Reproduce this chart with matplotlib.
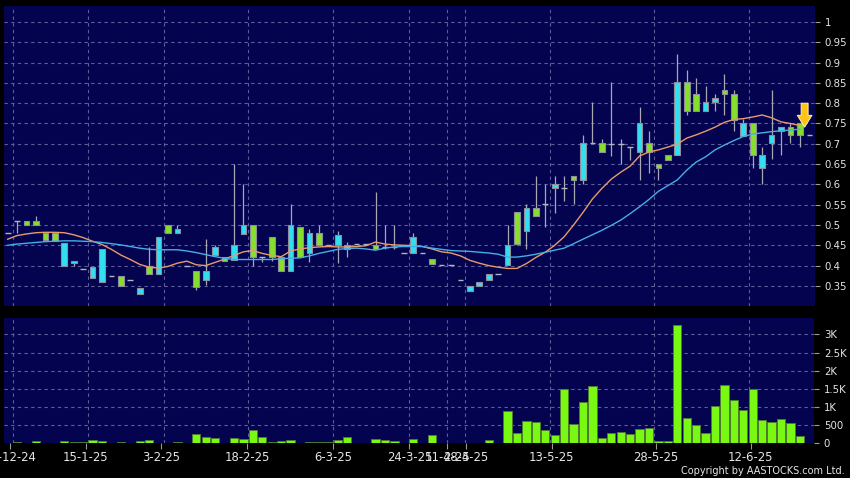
import matplotlib
matplotlib.use("Agg")
import matplotlib.pyplot as plt
import numpy as np

# ---------------- data ----------------
opens = [0.48, 0.51, 0.51, 0.51, 0.48, 0.48, 0.40, 0.406, 0.392, 0.369,
         0.36, 0.374, 0.374, 0.365, 0.33, 0.40, 0.379, 0.50, 0.48, 0.40,
         0.387, 0.364, 0.425, 0.421, 0.415, 0.479, 0.50, 0.42, 0.47, 0.421,
         0.386, 0.495, 0.431, 0.48, 0.45, 0.45, 0.441, 0.452, 0.452, 0.45,
         0.445, 0.445, 0.431, 0.431, 0.431, 0.416, 0.401, 0.401, 0.365, 0.338,
         0.349, 0.364, 0.379, 0.401, 0.531, 0.484, 0.542, 0.551, 0.59, 0.59,
         0.621, 0.61, 0.701, 0.701, 0.70, 0.70, 0.691, 0.681, 0.701, 0.65,
         0.672, 0.672, 0.851, 0.823, 0.78, 0.802, 0.833, 0.823, 0.72, 0.75,
         0.64, 0.701, 0.731, 0.741, 0.75, 0.721]
highs = [0.48, 0.51, 0.51, 0.523, 0.48, 0.48, 0.456, 0.411, 0.392, 0.397,
         0.441, 0.374, 0.374, 0.365, 0.345, 0.447, 0.47, 0.50, 0.50, 0.40,
         0.387, 0.465, 0.45, 0.421, 0.651, 0.60, 0.50, 0.42, 0.47, 0.421,
         0.552, 0.495, 0.49, 0.50, 0.45, 0.486, 0.457, 0.452, 0.452, 0.582,
         0.50, 0.50, 0.431, 0.48, 0.431, 0.416, 0.401, 0.401, 0.365, 0.35,
         0.36, 0.379, 0.379, 0.499, 0.531, 0.551, 0.621, 0.60, 0.621, 0.621,
         0.621, 0.721, 0.803, 0.711, 0.852, 0.711, 0.691, 0.79, 0.731, 0.65,
         0.672, 0.921, 0.882, 0.862, 0.842, 0.823, 0.872, 0.833, 0.76, 0.75,
         0.691, 0.833, 0.741, 0.75, 0.75, 0.721]
lows = [0.48, 0.48, 0.50, 0.50, 0.46, 0.46, 0.40, 0.40, 0.392, 0.369,
        0.36, 0.374, 0.35, 0.365, 0.33, 0.379, 0.379, 0.48, 0.48, 0.40,
        0.341, 0.353, 0.425, 0.412, 0.415, 0.479, 0.40, 0.41, 0.412, 0.386,
        0.386, 0.42, 0.41, 0.45, 0.45, 0.406, 0.42, 0.452, 0.452, 0.441,
        0.441, 0.44, 0.431, 0.431, 0.431, 0.405, 0.401, 0.401, 0.365, 0.338,
        0.349, 0.364, 0.379, 0.401, 0.45, 0.44, 0.521, 0.494, 0.53, 0.559,
        0.551, 0.60, 0.701, 0.681, 0.67, 0.65, 0.66, 0.61, 0.629, 0.61,
        0.661, 0.672, 0.77, 0.78, 0.78, 0.78, 0.77, 0.731, 0.72, 0.64,
        0.60, 0.662, 0.672, 0.701, 0.691, 0.721]
closes = [0.48, 0.51, 0.50, 0.50, 0.464, 0.46, 0.456, 0.411, 0.392, 0.397,
          0.441, 0.374, 0.35, 0.365, 0.345, 0.379, 0.47, 0.48, 0.491, 0.40,
          0.347, 0.387, 0.446, 0.412, 0.45, 0.50, 0.42, 0.42, 0.421, 0.386,
          0.50, 0.42, 0.48, 0.45, 0.45, 0.475, 0.45, 0.452, 0.452, 0.441,
          0.445, 0.445, 0.431, 0.47, 0.431, 0.405, 0.401, 0.401, 0.365, 0.35,
          0.36, 0.379, 0.379, 0.45, 0.454, 0.542, 0.521, 0.551, 0.60, 0.59,
          0.61, 0.701, 0.701, 0.681, 0.70, 0.70, 0.691, 0.75, 0.681, 0.64,
          0.661, 0.851, 0.78, 0.78, 0.803, 0.813, 0.822, 0.759, 0.75, 0.672,
          0.672, 0.721, 0.741, 0.721, 0.721, 0.721]
volumes = [0, 37, 10, 64, 10, 10, 64, 37, 37, 92,
           64, 0, 46, 0, 64, 92, 10, 0, 28, 0,
           266, 174, 138, 0, 138, 119, 367, 174, 37, 64,
           83, 0, 37, 28, 37, 92, 165, 0, 0, 119,
           83, 55, 0, 128, 20, 220, 10, 0, 0, 10,
           5, 83, 0, 880, 294, 615, 587, 367, 239, 1486,
           523, 1147, 1578, 147, 294, 312, 266, 394, 422, 55,
           55, 3248, 706, 505, 284, 1018, 1596, 1193, 908, 1495,
           633, 578, 679, 560, 202, 0]
ma_short = [0.465, 0.474, 0.478, 0.481, 0.482, 0.482, 0.481, 0.476, 0.469, 0.460,
            0.452, 0.440, 0.426, 0.415, 0.403, 0.396, 0.394, 0.398, 0.406, 0.411,
            0.402, 0.400, 0.408, 0.416, 0.425, 0.434, 0.437, 0.430, 0.425, 0.422,
            0.436, 0.441, 0.444, 0.446, 0.447, 0.446, 0.446, 0.447, 0.449, 0.458,
            0.453, 0.451, 0.450, 0.449, 0.447, 0.441, 0.434, 0.431, 0.424, 0.413,
            0.406, 0.400, 0.396, 0.393, 0.393, 0.405, 0.420, 0.433, 0.450, 0.471,
            0.500, 0.531, 0.564, 0.590, 0.613, 0.630, 0.645, 0.670, 0.680, 0.685,
            0.692, 0.699, 0.714, 0.722, 0.731, 0.741, 0.753, 0.760, 0.762, 0.766,
            0.771, 0.764, 0.754, 0.750, 0.745]
ma_long = [0.450, 0.453, 0.455, 0.457, 0.459, 0.460, 0.461, 0.461, 0.460, 0.459,
           0.457, 0.454, 0.451, 0.447, 0.443, 0.440, 0.439, 0.439, 0.439, 0.436,
           0.432, 0.427, 0.422, 0.418, 0.415, 0.415, 0.415, 0.415, 0.415, 0.417,
           0.418, 0.419, 0.424, 0.430, 0.435, 0.440, 0.442, 0.443, 0.441, 0.438,
           0.443, 0.446, 0.447, 0.447, 0.447, 0.443, 0.440, 0.437, 0.436, 0.435,
           0.433, 0.431, 0.428, 0.421, 0.421, 0.424, 0.428, 0.433, 0.438, 0.443,
           0.454, 0.465, 0.476, 0.487, 0.499, 0.512, 0.528, 0.545, 0.563, 0.583,
           0.597, 0.611, 0.635, 0.655, 0.668, 0.685, 0.697, 0.708, 0.718, 0.724,
           0.727, 0.730, 0.732, 0.734, 0.736]
date_labels = ["24-12-24", "15-1-25", "3-2-25", "18-2-25", "6-3-25", "24-3-25",
               "11-4-25", "28-4-25", "13-5-25", "28-5-25", "12-6-25"]
price_ticks = [0.35, 0.40, 0.45, 0.50, 0.55, 0.60, 0.65, 0.70, 0.75, 0.80,
               0.85, 0.90, 0.95, 1.00]
vol_ticks = [0, 500, 1000, 1500, 2000, 2500, 3000]
vol_tick_labels = ["0", "500", "1K", "1.5K", "2K", "2.5K", "3K"]

# ---------------- layout / style ----------------
W, H = 850, 478
tick_x = [0.2, 8.3, 16.3, 25.4, 34.5, 42.6, 46.6, 48.6, 57.7, 68.7, 78.8]
grid_x = [0.6, 8.55, 16.6, 25.5, 34.5, 42.6, 46.6, 48.5, 57.5, 68.5, 78.6]

BG = "#000000"
PANEL = "#03034f"
GRID = "#5e5e9a"
UP = "#30e0f2"
DOWN = "#86e02a"
EDGE = "#8f8f9c"
WICK = "#a8a8b4"
TXT = "#e6e6e6"
VOL = "#78f812"

fig = plt.figure(figsize=(W / 100, H / 100), dpi=100, facecolor=BG)


def box(l, t, r, b):
    return [l / W, 1 - b / H, (r - l) / W, (b - t) / H]


ax = fig.add_axes(box(4, 6, 815, 306))
axv = fig.add_axes(box(4, 318.3, 814, 443.3))

n = len(opens)
idx = np.arange(n)
o = np.array(opens); c = np.array(closes)
h = np.array(highs); l = np.array(lows)

for a in (ax, axv):
    a.set_facecolor(PANEL)
    for s in a.spines.values():
        s.set_visible(False)
    for gx in grid_x:
        a.axvline(gx, color=GRID, lw=0.8, ls=(0, (3, 3)), zorder=0)

# price grid
for pv in price_ticks:
    ax.axhline(pv, color=GRID, lw=0.8, ls=(0, (3, 3)), zorder=0)

# wicks
ax.vlines(idx, l, h, color=WICK, lw=0.9, zorder=2)
# bodies
bw = 0.6
for i in range(n):
    if abs(c[i] - o[i]) < 1e-9:
        ax.hlines(o[i], i - bw / 2, i + bw / 2, color="#b4b4be", lw=1.0, zorder=3)
    else:
        col = UP if c[i] > o[i] else DOWN
        ax.bar(i, abs(c[i] - o[i]), bottom=min(o[i], c[i]), width=bw,
               color=col, edgecolor=EDGE, linewidth=0.8, zorder=3)

ma_idx = np.arange(len(ma_short))
ax.plot(ma_idx, ma_short, color="#e89a6c", lw=1.0, zorder=4)
ax.plot(ma_idx, ma_long, color="#46aee6", lw=1.0, zorder=4)

# arrow marker
ax.annotate("", xy=(84.5, 0.741), xytext=(84.5, 0.800),
            arrowprops=dict(arrowstyle="simple,head_width=1.05,head_length=0.85,tail_width=0.5",
                            fc="#ffc21a", ec="#fff3b8", lw=0.7,
                            shrinkA=0, shrinkB=0, mutation_scale=10),
            zorder=6)

ax.set_xlim(-0.39, 85.6)
ax.set_ylim(0.3005, 1.0394)
ax.set_xticks([])
ax.yaxis.tick_right()
ax.set_yticks(price_ticks)
ax.set_yticklabels(["%g" % v for v in price_ticks])
ax.tick_params(axis="y", colors="#9a9a9a", labelcolor=TXT, length=3.6, width=0.8,
               pad=3.5, labelsize=7.3)

# volume
for vv in vol_ticks[1:]:
    axv.axhline(vv, color=GRID, lw=0.8, ls=(0, (3, 3)), zorder=0)
axv.bar(idx, volumes, width=0.88, color=VOL, edgecolor="#4e7a30", linewidth=0.7, zorder=3)
axv.set_xlim(-0.39, 85.6 - 0.106)
axv.set_ylim(0, 3443)
axv.yaxis.tick_right()
axv.set_yticks(vol_ticks)
axv.set_yticklabels(vol_tick_labels)
axv.tick_params(axis="y", colors="#9a9a9a", labelcolor=TXT, length=3.6, width=0.8,
                pad=3.5, labelsize=7.3)
axv.set_xticks(tick_x)
axv.set_xticklabels(date_labels)
axv.tick_params(axis="x", colors="#9a9a9a", labelcolor=TXT, length=4, width=0.8,
                pad=1.5, labelsize=8.4)

fig.text(845 / W, 1 - 471.5 / H, "Copyright by AASTOCKS.com Ltd.", color=TXT,
         fontsize=7.0, ha="right", va="center")

fig.savefig("out.png", dpi=100, facecolor=BG)
